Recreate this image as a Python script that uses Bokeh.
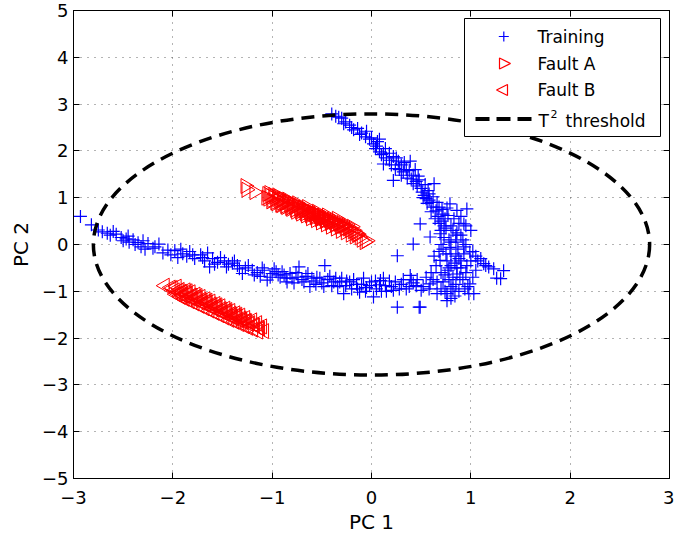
import math
from bokeh.plotting import figure
from bokeh.models import (LinearAxis, FixedTicker, ColumnDataSource, Label, BoxAnnotation,
                          PolyAnnotation, Arrow)
from bokeh.embed import file_html
from bokeh.resources import INLINE

# ---------------- data ----------------
train_pts = [
    # lower-left arm
    (-2.93, 0.60), (-2.82, 0.42), (-2.75, 0.31), (-2.71, 0.27), (-2.66, 0.24), (-2.63, 0.20), (-2.60, 0.28),
    (-2.57, 0.22), (-2.52, 0.15), (-2.50, 0.08), (-2.47, 0.12), (-2.45, 0.18), (-2.44, 0.05), (-2.40, 0.10),
    (-2.38, 0.00), (-2.35, 0.04), (-2.32, -0.05), (-2.30, 0.08), (-2.28, -0.10), (-2.25, 0.02), (-2.20, -0.08),
    (-2.18, -0.05), (-2.14, 0.01), (-2.10, -0.18), (-2.05, -0.12), (-2.02, -0.22), (-1.98, -0.13), (-1.95, -0.28),
    (-1.92, -0.10), (-1.90, -0.20), (-1.86, -0.25), (-1.83, -0.15), (-1.80, -0.22), (-1.78, -0.30), (-1.72, -0.22),
    (-1.70, -0.28), (-1.68, -0.35), (-1.65, -0.18), (-1.63, -0.48), (-1.60, -0.30), (-1.58, -0.42), (-1.55, -0.38),
    (-1.52, -0.28), (-1.48, -0.35), (-1.46, -0.48), (-1.44, -0.42), (-1.40, -0.40), (-1.38, -0.35), (-1.35, -0.45),
    (-1.33, -0.52), (-1.30, -0.62), (-1.27, -0.50), (-1.24, -0.45), (-1.20, -0.55), (-1.18, -0.65), (-1.15, -0.60),
    (-1.12, -0.68), (-1.10, -0.50), (-1.08, -0.55), (-1.05, -0.76), (-1.02, -0.70), (-1.00, -0.62), (-0.98, -0.52),
    (-0.96, -0.58), (-0.94, -0.65), (-0.92, -0.70), (-0.90, -0.58), (-0.88, -0.65), (-0.86, -0.72), (-0.85, -0.80),
    (-0.82, -0.62), (-0.80, -0.72), (-0.78, -0.82), (-0.76, -0.60), (-0.74, -0.70), (-0.73, -0.48), (-0.70, -0.75),
    (-0.68, -0.80), (-0.66, -0.68), (-0.64, -0.62), (-0.62, -0.90), (-0.60, -0.72), (-0.58, -0.78), (-0.56, -0.85),
    (-0.55, -0.70), (-0.52, -0.72), (-0.50, -0.82), (-0.48, -0.90), (-0.47, -0.45), (-0.44, -0.75), (-0.42, -0.68),
    (-0.40, -0.88), (-0.38, -0.80), (-0.36, -0.72), (-0.34, -0.90), (-0.32, -0.80), (-0.30, -0.72), (-0.28, -1.05),
    (-0.26, -0.88), (-0.25, -0.78), (-0.22, -0.80), (-0.20, -0.95), (-0.18, -0.75), (-0.15, -0.85), (-0.14, -0.95),
    (-0.12, -1.02), (-0.10, -0.85), (-0.08, -0.72), (-0.06, -1.00), (-0.05, -0.92), (-0.02, -0.88), (0.00, -0.80),
    (0.02, -1.12), (0.04, -0.78), (0.05, -0.95), (0.08, -0.86), (0.10, -1.00), (0.12, -0.72), (0.14, -0.88),
    (0.15, -1.00), (0.18, -0.78), (0.20, -0.90), (0.22, -0.98), (0.24, -0.80), (0.26, -1.34), (0.28, -0.95),
    (0.30, -0.85), (0.32, -0.75), (0.35, -0.95), (0.38, -0.90), (0.40, -0.75), (0.42, -0.82), (0.45, -0.88),
    (0.46, -0.75), (0.48, -1.34), (0.50, -0.98), (0.52, -0.90),
    # upper arm
    (-0.40, 2.79), (-0.36, 2.74), (-0.33, 2.72), (-0.30, 2.70), (-0.28, 2.58), (-0.26, 2.62), (-0.22, 2.55),
    (-0.20, 2.50), (-0.18, 2.45), (-0.14, 2.48), (-0.12, 2.35), (-0.10, 2.38), (-0.06, 2.30), (-0.05, 2.42),
    (-0.02, 2.25), (0.00, 2.28), (0.02, 2.15), (0.04, 2.05), (0.05, 2.10), (0.06, 2.20), (0.08, 1.98),
    (0.08, 2.25), (0.10, 1.92), (0.12, 1.72), (0.12, 1.95), (0.14, 2.05), (0.15, 1.85), (0.18, 1.95),
    (0.18, 1.80), (0.20, 1.70), (0.22, 1.88), (0.22, 1.37), (0.24, 1.62), (0.25, 1.85), (0.27, 1.78),
    (0.28, 1.60), (0.30, 1.70), (0.30, 1.48), (0.32, 1.55), (0.33, 1.75), (0.35, 1.60), (0.36, 1.42),
    (0.38, 1.58), (0.39, 1.78), (0.40, 1.40), (0.42, 1.48), (0.42, 1.30), (0.44, 1.60), (0.45, 1.35),
    (0.46, 1.25), (0.47, 1.46), (0.48, 1.38), (0.49, 0.44), (0.50, 1.20), (0.51, 1.12), (0.52, 1.00),
    (0.53, 1.05), (0.54, 1.28), (0.55, 0.98), (0.56, 0.88), (0.57, 1.15), (0.58, 1.08), (0.58, 0.95),
    (0.60, 0.90), (0.60, 0.70), (0.62, 0.80), (0.62, 1.02), (0.63, 1.30), (0.64, 0.55), (0.65, 0.72),
    (0.66, 0.90), (0.67, 0.60), (0.68, 0.80), (0.68, 0.45), (0.70, 0.50), (0.70, 0.30), (0.71, 0.75),
    (0.72, 0.65), (0.73, 0.40), (0.74, 0.55), (0.76, 0.78), (0.77, 0.62), (0.79, 0.87), (0.80, 0.40),
    (0.83, 0.55), (0.85, 0.20), (0.86, 0.73), (0.88, 0.45), (0.90, 0.60), (0.93, 0.44), (0.95, 0.40),
    (0.96, 0.76), (1.00, 0.30),
    # right-hand cluster and tail
    (0.69, 0.23), (0.59, 0.16), (0.42, 0.01), (0.26, -0.24), (0.79, -0.06), (0.85, 0.05), (0.90, 0.20),
    (0.99, -0.16), (1.05, -0.25), (1.13, -0.41), (1.23, -0.52), (1.33, -0.56), (1.30, -0.73), (1.26, -0.72),
    (0.99, -0.84), (1.03, -1.05), (0.76, -1.20), (0.74, -1.00), (0.59, -0.84), (0.49, -1.34), (0.39, -0.66),
    (0.09, -0.77), (0.69, -0.34), (0.80, -0.45), (0.86, -0.63), (0.92, -0.75), (0.80, -0.90), (0.66, -1.05),
    (0.70, -0.60), (0.75, -0.20), (0.82, 0.30), (0.88, -0.30), (0.95, 0.00), (0.72, -0.80), (0.84, -1.10),
    (0.78, 0.10), (0.90, -0.50), (0.65, -0.45), (1.00, -0.35), (0.95, -0.60), (0.60, -0.60), (0.75, 0.35),
    (0.85, -0.85), (0.68, -0.15), (0.92, 0.10), (0.82, -0.70), (0.97, -0.90), (1.10, -0.30), (0.78, -0.50),
    (0.70, 0.00), (0.72, -0.10), (0.76, -0.35), (0.80, -0.20), (0.84, -0.40), (0.87, -0.10), (0.90, -0.35),
    (0.93, -0.20), (0.96, -0.45), (1.02, -0.15), (1.07, -0.35), (0.74, -0.65), (0.78, -0.75), (0.82, -0.95),
    (0.86, -0.50), (0.89, -0.70), (0.94, -0.95), (0.98, -1.05), (1.02, -0.70), (0.70, -0.95), (0.66, -0.80),
    (0.63, -0.25), (0.62, -0.75), (0.76, -1.05), (0.80, -1.15), (0.88, -1.00), (0.73, 0.15), (0.80, 0.05),
    (0.86, 0.25), (0.93, -0.05), (1.05, -0.55), (1.15, -0.45), (1.18, -0.48), (0.58, -0.95), (0.55, -0.70),
    (0.85, -0.25), (0.77, -0.55),
]

faultA_pts = [
    (-1.27, 1.25), (-1.26, 1.17), (-1.18, 1.12), (-1.06, 1.00), (-1.05, 1.08), (-1.04, 0.98), (-1.03, 1.10),
    (-1.02, 1.04), (-1.01, 0.92), (-1.00, 0.95), (-0.99, 1.06), (-0.98, 1.02), (-0.97, 0.90), (-0.96, 0.88),
    (-0.95, 0.97), (-0.95, 1.05), (-0.94, 1.02), (-0.93, 0.92), (-0.92, 0.85), (-0.91, 0.84), (-0.90, 0.95),
    (-0.90, 0.90), (-0.89, 0.98), (-0.88, 0.88), (-0.87, 0.82), (-0.86, 0.80), (-0.85, 0.90), (-0.85, 0.96),
    (-0.84, 0.93), (-0.83, 0.84), (-0.82, 0.78), (-0.81, 0.76), (-0.80, 0.86), (-0.80, 0.82), (-0.79, 0.88),
    (-0.78, 0.80), (-0.77, 0.74), (-0.76, 0.70), (-0.75, 0.83), (-0.75, 0.88), (-0.74, 0.84), (-0.73, 0.76),
    (-0.72, 0.70), (-0.71, 0.66), (-0.70, 0.78), (-0.70, 0.74), (-0.69, 0.79), (-0.68, 0.72), (-0.67, 0.66),
    (-0.66, 0.62), (-0.65, 0.74), (-0.65, 0.80), (-0.64, 0.74), (-0.63, 0.68), (-0.62, 0.62), (-0.61, 0.56),
    (-0.60, 0.70), (-0.60, 0.66), (-0.59, 0.69), (-0.58, 0.64), (-0.57, 0.58), (-0.56, 0.52), (-0.55, 0.66),
    (-0.55, 0.70), (-0.54, 0.64), (-0.53, 0.60), (-0.52, 0.54), (-0.51, 0.47), (-0.50, 0.62), (-0.50, 0.57),
    (-0.49, 0.59), (-0.48, 0.56), (-0.47, 0.50), (-0.46, 0.43), (-0.45, 0.58), (-0.45, 0.62), (-0.44, 0.54),
    (-0.43, 0.52), (-0.42, 0.46), (-0.41, 0.38), (-0.40, 0.54), (-0.40, 0.50), (-0.39, 0.50), (-0.38, 0.48),
    (-0.37, 0.42), (-0.36, 0.34), (-0.35, 0.50), (-0.35, 0.55), (-0.34, 0.45), (-0.33, 0.44), (-0.32, 0.38),
    (-0.31, 0.29), (-0.30, 0.46), (-0.30, 0.40), (-0.29, 0.40), (-0.28, 0.40), (-0.27, 0.35), (-0.26, 0.26),
    (-0.25, 0.42), (-0.24, 0.34), (-0.23, 0.36), (-0.22, 0.31), (-0.21, 0.21), (-0.20, 0.38), (-0.19, 0.28),
    (-0.18, 0.30), (-0.17, 0.17), (-0.16, 0.25), (-0.15, 0.22), (-0.14, 0.22), (-0.12, 0.15), (-0.10, 0.10),
    (-0.07, 0.05), (-0.05, 0.08),
]

faultB_pts = [
    (-2.08, -0.88), (-2.02, -0.92), (-2.00, -0.93), (-1.98, -0.98), (-1.97, -1.06), (-1.96, -0.90), (-1.95, -1.05),
    (-1.94, -0.99), (-1.93, -0.97), (-1.92, -1.12), (-1.91, -1.01), (-1.90, -1.02), (-1.90, -1.08), (-1.89, -1.10),
    (-1.88, -1.16), (-1.87, -0.98), (-1.86, -1.04), (-1.85, -1.06), (-1.85, -1.00), (-1.84, -1.14), (-1.83, -1.21),
    (-1.82, -1.02), (-1.81, -1.09), (-1.80, -1.10), (-1.80, -1.16), (-1.79, -1.18), (-1.78, -1.26), (-1.77, -1.07),
    (-1.76, -1.13), (-1.75, -1.15), (-1.75, -1.10), (-1.74, -1.22), (-1.73, -1.31), (-1.72, -1.12), (-1.71, -1.18),
    (-1.70, -1.20), (-1.70, -1.25), (-1.69, -1.27), (-1.68, -1.36), (-1.67, -1.17), (-1.66, -1.23), (-1.65, -1.25),
    (-1.65, -1.20), (-1.64, -1.32), (-1.63, -1.41), (-1.62, -1.22), (-1.61, -1.28), (-1.60, -1.30), (-1.60, -1.35),
    (-1.59, -1.37), (-1.58, -1.46), (-1.57, -1.27), (-1.56, -1.33), (-1.55, -1.35), (-1.55, -1.30), (-1.54, -1.42),
    (-1.53, -1.51), (-1.52, -1.32), (-1.51, -1.38), (-1.50, -1.40), (-1.50, -1.45), (-1.49, -1.47), (-1.48, -1.56),
    (-1.47, -1.37), (-1.46, -1.43), (-1.45, -1.45), (-1.45, -1.40), (-1.44, -1.52), (-1.43, -1.61), (-1.42, -1.42),
    (-1.41, -1.48), (-1.40, -1.50), (-1.40, -1.54), (-1.39, -1.57), (-1.38, -1.65), (-1.37, -1.47), (-1.36, -1.53),
    (-1.35, -1.55), (-1.35, -1.50), (-1.34, -1.62), (-1.33, -1.70), (-1.32, -1.52), (-1.31, -1.58), (-1.30, -1.60),
    (-1.30, -1.63), (-1.29, -1.66), (-1.28, -1.74), (-1.27, -1.57), (-1.26, -1.63), (-1.25, -1.64), (-1.24, -1.78),
    (-1.23, -1.70), (-1.22, -1.68), (-1.20, -1.62), (-1.19, -1.82), (-1.18, -1.72), (-1.17, -1.73), (-1.15, -1.68),
    (-1.14, -1.86), (-1.13, -1.78), (-1.12, -1.80), (-1.10, -1.75), (-1.08, -1.85),
]

# T^2 threshold ellipse
t2_center_x = [0.0]
t2_center_y = [0.0]
t2_width = [5.6]
t2_height = [5.58]

x_ticks = [-3, -2, -1, 0, 1, 2, 3]
x_tick_labels = ["\u22123", "\u22122", "\u22121", "0", "1", "2", "3"]
y_ticks = [-5, -4, -3, -2, -1, 0, 1, 2, 3, 4, 5]
y_tick_labels = ["\u22125", "\u22124", "\u22123", "\u22122", "\u22121", "0", "1", "2", "3", "4", "5"]

series_labels = ["Training", "Fault A", "Fault B"]
threshold_label = ("T", "2", "threshold")

# ---------------- figure ----------------
FONT = "DejaVu Sans"
FRAME_L, FRAME_T, FRAME_B = 73, 10, 478   # frame edges in canvas pixels

p = figure(width=674, height=536, x_range=(-3, 3), y_range=(-5, 5),
           output_backend="svg", toolbar_location=None,
           min_border_left=FRAME_L, min_border_right=5, min_border_top=FRAME_T,
           min_border_bottom=536 - FRAME_B,
           x_axis_label="PC 1", y_axis_label="PC 2")
p.background_fill_color = "white"
p.border_fill_color = "white"
p.outline_line_color = "black"
p.outline_line_width = 1

for ax in (p.xaxis, p.yaxis):
    ax.axis_line_color = "black"
    ax.major_tick_line_color = "black"
    ax.major_tick_in = 6
    ax.major_tick_out = 0
    ax.minor_tick_line_color = None
    ax.major_label_text_font = FONT
    ax.major_label_text_font_size = "18px"
    ax.major_label_text_color = "black"
    ax.axis_label_text_font = FONT
    ax.axis_label_text_font_size = "20px"
    ax.axis_label_text_font_style = "normal"
    ax.axis_label_text_color = "black"

p.xaxis.ticker = FixedTicker(ticks=x_ticks)
p.yaxis.ticker = FixedTicker(ticks=y_ticks)
p.xaxis.major_label_overrides = dict(zip(x_ticks, x_tick_labels))
p.yaxis.major_label_overrides = dict(zip(y_ticks, y_tick_labels))
p.xaxis.major_label_standoff = 12
p.yaxis.major_label_standoff = 5
p.xaxis.axis_label_standoff = 3
p.yaxis.axis_label_standoff = 6

# mirrored ticks on top and right (no labels)
top_ax = LinearAxis(ticker=FixedTicker(ticks=x_ticks), major_tick_in=6, major_tick_out=0,
                    minor_tick_line_color=None, major_label_text_font_size="0px",
                    major_label_text_color=None, major_label_standoff=0, axis_line_color="black")
right_ax = LinearAxis(ticker=FixedTicker(ticks=y_ticks), major_tick_in=6, major_tick_out=0,
                      minor_tick_line_color=None, major_label_text_font_size="0px",
                      major_label_text_color=None, major_label_standoff=0, axis_line_color="black")
p.add_layout(top_ax, "above")
p.add_layout(right_ax, "right")

p.xgrid.ticker = FixedTicker(ticks=x_ticks)
p.ygrid.ticker = FixedTicker(ticks=y_ticks)
p.grid.grid_line_color = "#444444"
p.grid.grid_line_dash = "1 6"
p.grid.grid_line_width = 1
p.grid.grid_line_alpha = 0.8

src_train = ColumnDataSource(dict(x=[q[0] for q in train_pts], y=[q[1] for q in train_pts]))
src_a = ColumnDataSource(dict(x=[q[0] for q in faultA_pts], y=[q[1] for q in faultA_pts]))
src_b = ColumnDataSource(dict(x=[q[0] for q in faultB_pts], y=[q[1] for q in faultB_pts]))

p.scatter("x", "y", source=src_train, marker="cross", size=13,
          line_color="#0000ff", line_width=1.2)
p.scatter("x", "y", source=src_a, marker="triangle", size=15, angle=-math.pi / 2,
          line_color="#ff0000", fill_color=None, line_width=1)
p.scatter("x", "y", source=src_b, marker="triangle", size=15, angle=math.pi / 2,
          line_color="#ff0000", fill_color=None, line_width=1)

p.ellipse(x=t2_center_x, y=t2_center_y, width=t2_width, height=t2_height,
          fill_color=None, line_color="black", line_width=3.5, line_dash="13 8")

# ---------------- legend (drawn by hand, screen units) ----------------
def sx(px):
    return px - FRAME_L


def sy(py):
    return FRAME_B - py


p.add_layout(BoxAnnotation(left=sx(464), right=sx(660), top=sy(18), bottom=sy(136),
                           left_units="screen", right_units="screen",
                           top_units="screen", bottom_units="screen",
                           fill_color="white", fill_alpha=1,
                           line_color="black", line_width=1, line_alpha=1))

text_x = 537
for lab, base in zip(series_labels, (36.5, 63.5, 89.5)):
    p.add_layout(Label(x=sx(text_x), y=sy(base), x_units="screen", y_units="screen",
                       text=lab, text_font=FONT, text_font_size="17px",
                       text_color="black", text_baseline="alphabetic", text_align="left"))
p.add_layout(Label(x=sx(538), y=sy(120.5), x_units="screen", y_units="screen",
                   text=threshold_label[0], text_font=FONT, text_font_size="17px",
                   text_color="black", text_baseline="alphabetic"))
p.add_layout(Label(x=sx(550), y=sy(113), x_units="screen", y_units="screen",
                   text=threshold_label[1], text_font=FONT, text_font_size="11px",
                   text_color="black", text_baseline="alphabetic"))
p.add_layout(Label(x=sx(565), y=sy(120.5), x_units="screen", y_units="screen",
                   text=threshold_label[2], text_font=FONT, text_font_size="17px",
                   text_color="black", text_baseline="alphabetic"))

# legend symbols
mx, my = 503.3, 36
p.add_layout(Arrow(end=None, x_start=sx(mx - 5), y_start=sy(my), x_end=sx(mx + 5), y_end=sy(my),
                   start_units="screen", end_units="screen", line_color="#0000ff", line_width=1.2))
p.add_layout(Arrow(end=None, x_start=sx(mx), y_start=sy(my - 5), x_end=sx(mx), y_end=sy(my + 5),
                   start_units="screen", end_units="screen", line_color="#0000ff", line_width=1.2))
p.add_layout(PolyAnnotation(xs=[sx(499), sx(499), sx(510)], ys=[sy(57.5), sy(68.5), sy(63)],
                            xs_units="screen", ys_units="screen",
                            fill_color=None, fill_alpha=0, line_color="#ff0000",
                            line_alpha=1, line_width=1.2))
p.add_layout(PolyAnnotation(xs=[sx(507), sx(507), sx(496)], ys=[sy(84), sy(95), sy(89.5)],
                            xs_units="screen", ys_units="screen",
                            fill_color=None, fill_alpha=0, line_color="#ff0000",
                            line_alpha=1, line_width=1.2))
p.add_layout(Arrow(end=None, x_start=sx(475), y_start=sy(118.5), x_end=sx(531), y_end=sy(118.5),
                   start_units="screen", end_units="screen", line_color="black",
                   line_width=4, line_dash="14 7"))

open("out.html", "w").write(file_html(p, INLINE))
